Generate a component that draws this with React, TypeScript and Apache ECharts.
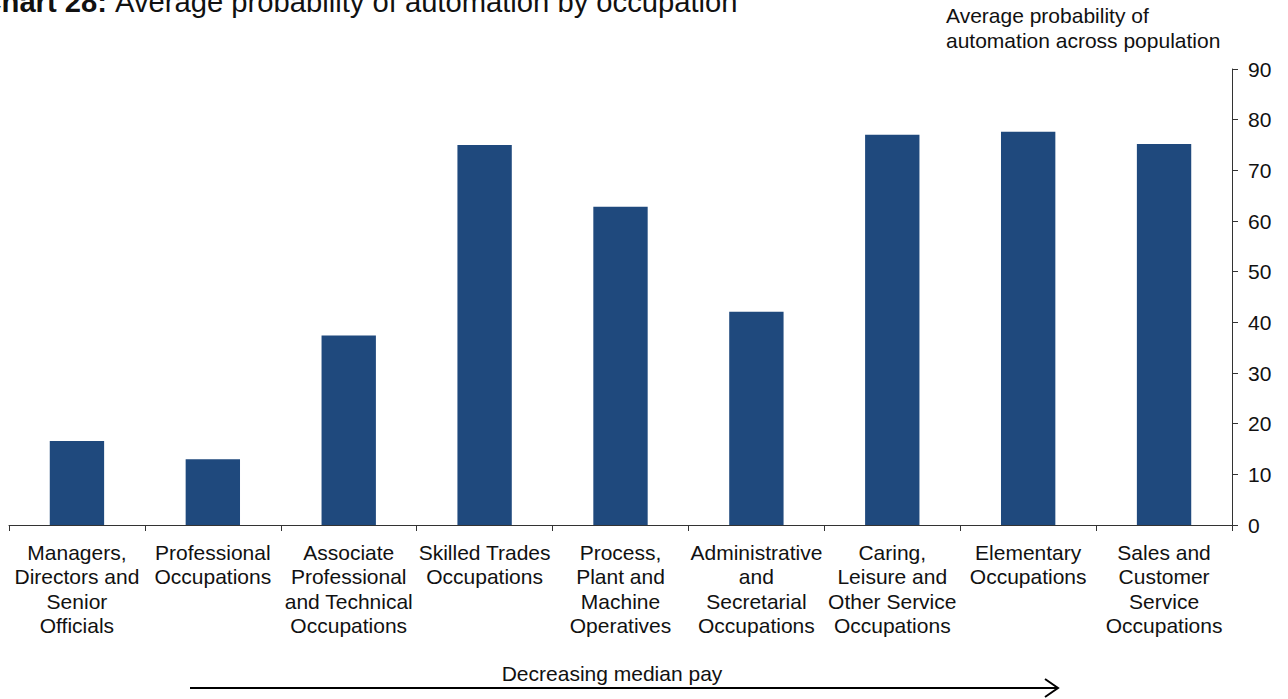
import React, { useEffect, useRef } from "react";
import * as echarts from "echarts";

const categories = [
  "Managers,\nDirectors and\nSenior\nOfficials",
  "Professional\nOccupations",
  "Associate\nProfessional\nand Technical\nOccupations",
  "Skilled Trades\nOccupations",
  "Process,\nPlant and\nMachine\nOperatives",
  "Administrative\nand\nSecretarial\nOccupations",
  "Caring,\nLeisure and\nOther Service\nOccupations",
  "Elementary\nOccupations",
  "Sales and\nCustomer\nService\nOccupations",
];
const values = [16.6, 13.0, 37.4, 75.0, 62.8, 42.1, 77.0, 77.6, 75.2];
const yTicks = { min: 0, max: 90, interval: 10 };

const FONT = "'Liberation Sans', Arial, sans-serif";

export default function App() {
  const ref = useRef<HTMLDivElement>(null);
  useEffect(() => {
    document.body.style.margin = "0";
    const chart = echarts.init(ref.current!, null, { renderer: "svg" });
    chart.setOption({
      animation: false,
      backgroundColor: "#ffffff",
      textStyle: { fontFamily: FONT },
      grid: { left: 9, right: 56, top: 69, bottom: 174, containLabel: false },
      xAxis: {
        type: "category",
        data: categories,
        axisLine: { lineStyle: { color: "#333333", width: 1 } },
        axisTick: { show: true, length: 6, lineStyle: { color: "#333333" }, alignWithLabel: false },
        axisLabel: {
          interval: 0,
          color: "#111111",
          fontSize: 21,
          lineHeight: 24.5,
          fontFamily: FONT,
          margin: 15,
        },
      },
      yAxis: {
        type: "value",
        position: "right",
        min: yTicks.min,
        max: yTicks.max,
        interval: yTicks.interval,
        splitLine: { show: false },
        axisLine: { show: true, lineStyle: { color: "#333333", width: 1 } },
        axisTick: { show: true, length: 6, lineStyle: { color: "#333333" } },
        axisLabel: { color: "#111111", fontSize: 21, fontFamily: FONT, margin: 16 },
      },
      series: [
        {
          type: "bar",
          data: values,
          barWidth: "40%",
          itemStyle: { color: "#1f497d" },
        },
      ],
      graphic: [
        {
          type: "text",
          x: 107,
          y: 1.5,
          style: {
            text: "Chart 28:",
            fontFamily: FONT,
            fontSize: 29.2,
            fontWeight: "bold",
            fill: "#111111",
            align: "right",
            verticalAlign: "middle",
          },
        },
        {
          type: "text",
          x: 115,
          y: 1.5,
          style: {
            text: "Average probability of automation by occupation",
            fontFamily: FONT,
            fontSize: 29.2,
            fill: "#111111",
            align: "left",
            verticalAlign: "middle",
          },
        },
        {
          type: "text",
          x: 946,
          y: 3,
          style: {
            text: "Average probability of\nautomation across population",
            fontFamily: FONT,
            fontSize: 21,
            lineHeight: 25,
            fill: "#111111",
          },
        },
        {
          type: "text",
          x: 612,
          y: 673,
          style: {
            text: "Decreasing median pay",
            fontFamily: FONT,
            fontSize: 21,
            fill: "#111111",
            align: "center",
            verticalAlign: "middle",
          },
        },
        {
          type: "line",
          shape: { x1: 190, y1: 688, x2: 1058, y2: 688 },
          style: { stroke: "#000000", lineWidth: 2 },
        },
        {
          type: "polyline",
          shape: { points: [[1045, 679], [1058, 688], [1045, 697]] },
          style: { stroke: "#000000", lineWidth: 2, fill: "none" },
        },
      ],
    });
    return () => chart.dispose();
  }, []);
  return <div ref={ref} style={{ width: 1288, height: 699 }} />;
}
